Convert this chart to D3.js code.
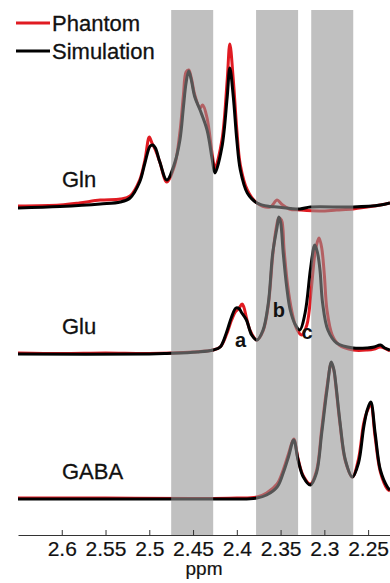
<!DOCTYPE html>
<html>
<head>
<meta charset="utf-8">
<script src="https://cdn.jsdelivr.net/npm/d3@7"></script>
<style>
  body { margin: 0; background: #fff; }
  svg { display: block; font-family: "Liberation Sans", Arial, sans-serif; }
</style>
</head>
<body>
<svg id="chart" width="390" height="583"></svg>
<script>
// spectra: [ppm, intensity above its own baseline]
const glnPhantom = [
  [2.650, 1], [2.602, 2], [2.580, 4], [2.556, 7], [2.533, 8], [2.522, 11],
  [2.511, 27], [2.505, 47], [2.500, 70], [2.497, 64], [2.493, 57], [2.488, 45],
  [2.480, 25], [2.471, 42], [2.465, 75], [2.461, 112], [2.458, 135], [2.455, 137],
  [2.452, 129], [2.448, 112], [2.442, 99], [2.439, 102], [2.434, 89], [2.428, 52],
  [2.425, 39], [2.417, 67], [2.411, 127], [2.408, 163], [2.404, 127], [2.400, 77],
  [2.396, 42], [2.388, 17], [2.377, 4], [2.362, 0], [2.354, 7], [2.349, 3],
  [2.340, -2], [2.328, -3], [2.305, -4], [2.286, -3], [2.267, -2], [2.251, 0],
  [2.236, 2], [2.225, 4]
];
const glnSim = [
  [2.650, -1], [2.602, 0.5], [2.556, 3], [2.533, 5], [2.522, 9], [2.511, 25],
  [2.505, 44], [2.499, 61], [2.496, 62], [2.493, 59], [2.488, 45], [2.480, 27],
  [2.471, 44], [2.465, 67], [2.461, 100], [2.458, 124], [2.455, 136], [2.452, 127],
  [2.448, 110], [2.442, 97], [2.434, 77], [2.428, 47], [2.425, 34], [2.417, 60],
  [2.411, 110], [2.408, 139], [2.404, 110], [2.400, 67], [2.396, 37], [2.388, 14],
  [2.377, 4], [2.362, 0.5], [2.354, 0], [2.328, -2], [2.316, 0], [2.267, 0],
  [2.236, 2], [2.225, 4]
];
const gluPhantom = [
  [2.650, 1], [2.600, 0.5], [2.550, 1], [2.500, 0.5], [2.450, 2], [2.427, 4],
  [2.419, 7], [2.412, 19], [2.406, 34], [2.401, 43], [2.398, 45], [2.394, 50],
  [2.392, 47], [2.389, 36], [2.385, 24], [2.380, 16], [2.377, 14], [2.370, 23],
  [2.364, 49], [2.359, 98], [2.355, 126], [2.352, 136], [2.349, 134], [2.346, 104],
  [2.342, 69], [2.337, 42], [2.332, 26], [2.326, 19], [2.320, 29], [2.315, 64],
  [2.311, 99], [2.308, 112], [2.306, 116], [2.303, 106], [2.300, 79], [2.297, 44],
  [2.291, 19], [2.283, 9], [2.267, 4], [2.251, 4], [2.243, 5], [2.236, 7], [2.225, 3]
];
const gluSim = [
  [2.650, 0], [2.500, 0], [2.480, 0.5], [2.445, 2], [2.427, 4], [2.419, 7],
  [2.412, 21], [2.406, 37], [2.401, 46], [2.397, 45], [2.395, 42], [2.389, 34],
  [2.383, 19], [2.377, 14], [2.370, 24], [2.364, 51], [2.359, 101], [2.354, 127],
  [2.352, 137], [2.350, 132], [2.347, 101], [2.343, 67], [2.339, 44], [2.333, 29],
  [2.328, 24], [2.322, 41], [2.316, 84], [2.312, 107], [2.311, 109], [2.308, 102],
  [2.305, 84], [2.302, 51], [2.296, 24], [2.286, 11], [2.267, 6], [2.251, 6],
  [2.243, 7], [2.236, 9], [2.231, 6], [2.225, 4]
];
const gabaPhantom = [
  [2.650, 1], [2.550, 1], [2.450, 0.5], [2.400, 1], [2.377, 2], [2.366, 6],
  [2.354, 15], [2.347, 29], [2.341, 45], [2.335, 60], [2.330, 40], [2.324, 23],
  [2.316, 15], [2.309, 28], [2.303, 70], [2.297, 112], [2.292, 136], [2.289, 128],
  [2.287, 114], [2.282, 74], [2.276, 38], [2.268, 22], [2.261, 40], [2.255, 76],
  [2.251, 88], [2.247, 94], [2.242, 62], [2.236, 27], [2.228, 10], [2.225, 8]
];
const gabaSim = [
  [2.650, 0], [2.550, 0], [2.450, 0], [2.400, 0], [2.377, 1], [2.366, 4],
  [2.354, 12], [2.347, 26], [2.341, 42], [2.335, 59], [2.330, 39], [2.324, 22],
  [2.316, 14], [2.309, 26], [2.303, 66], [2.297, 109], [2.292, 137], [2.289, 129],
  [2.287, 116], [2.282, 76], [2.276, 39], [2.268, 22], [2.261, 36], [2.255, 72],
  [2.251, 89], [2.247, 97], [2.242, 66], [2.236, 29], [2.228, 12], [2.225, 9]
];

const metabolites = ["Gln", "Glu", "GABA"];
const baselines = [328, 181, 36];
const bands = [[2.475, 2.427], [2.378, 2.330], [2.315, 2.267]];
const tickValues = [2.6, 2.55, 2.5, 2.45, 2.4, 2.35, 2.3, 2.25];
const peakLabels = ["a", "b", "c"];
const peakPos = [[2.402, 7], [2.359, 37], [2.326, 15]];
const legendNames = ["Phantom", "Simulation"];

const colors = { phantom: "#e01b22", sim: "#000" };

const svg = d3.select("#chart");
const width = +svg.attr("width");
const height = +svg.attr("height");
const axisY = 535;

const x = d3.scaleLinear().domain([2.65, 2.225]).range([18, 390]);
const y = d3.scaleLinear().domain([0, 525]).range([axisY, 10]);

const spectra = [
  { name: "Gln", phantom: glnPhantom, sim: glnSim },
  { name: "Glu", phantom: gluPhantom, sim: gluSim },
  { name: "GABA", phantom: gabaPhantom, sim: gabaSim }
];

const lineFor = (base) => d3.line()
  .x((d) => x(d[0]))
  .y((d) => y(base + d[1]))
  .curve(d3.curveCatmullRom.alpha(0.5));

// traces
const g = svg.append("g");
spectra.forEach((s, i) => {
  g.append("path").datum(s.phantom)
    .attr("d", lineFor(baselines[i]))
    .attr("fill", "none").attr("stroke", colors.phantom)
    .attr("stroke-width", 3).attr("stroke-linejoin", "round");
  g.append("path").datum(s.sim)
    .attr("d", lineFor(baselines[i]))
    .attr("fill", "none").attr("stroke", colors.sim)
    .attr("stroke-width", 3).attr("stroke-linejoin", "round");
});

// shaded bands (on top, translucent)
svg.append("g").selectAll("rect").data(bands).join("rect")
  .attr("x", (d) => x(d[0]))
  .attr("width", (d) => x(d[1]) - x(d[0]))
  .attr("y", y(525))
  .attr("height", axisY - y(525))
  .attr("fill", "#929292")
  .attr("fill-opacity", 0.58);

// metabolite names
svg.append("g").selectAll("text").data(metabolites).join("text")
  .attr("x", 62)
  .attr("y", (d, i) => y(baselines[i]) - 20)
  .attr("font-size", 22)
  .attr("fill", "#111")
  .attr("stroke", "#111").attr("stroke-width", 0.3)
  .text((d) => d);

// peak letters on Glu
svg.append("g").selectAll("text").data(peakLabels).join("text")
  .attr("x", (d, i) => x(peakPos[i][0]))
  .attr("y", (d, i) => y(baselines[1] + peakPos[i][1]))
  .attr("font-size", 20)
  .attr("font-weight", "bold")
  .attr("fill", "#111")
  .text((d) => d);

// x axis
const xAxis = d3.axisBottom(x)
  .tickValues(tickValues)
  .tickFormat((d) => String(d))
  .tickSizeInner(-5)
  .tickSizeOuter(0)
  .tickPadding(6);

const axisG = svg.append("g")
  .attr("transform", `translate(0,${axisY})`)
  .call(xAxis);
axisG.select(".domain").attr("stroke", "#333");
axisG.selectAll(".tick line").attr("stroke", "#333");
axisG.selectAll(".tick text")
  .attr("font-size", 21)
  .attr("font-family", "'Liberation Sans', Arial, sans-serif")
  .attr("fill", "#111")
  .attr("stroke", "#111").attr("stroke-width", 0.2);

svg.append("text")
  .attr("x", x(2.4375))
  .attr("y", 575)
  .attr("text-anchor", "middle")
  .attr("font-size", 19)
  .attr("fill", "#111")
  .attr("stroke", "#111").attr("stroke-width", 0.2)
  .text("ppm");

// legend
const legend = svg.append("g");
legendNames.forEach((name, i) => {
  const ly = 23 + i * 28;
  legend.append("line")
    .attr("x1", 16).attr("x2", 50)
    .attr("y1", ly).attr("y2", ly)
    .attr("stroke", i === 0 ? colors.phantom : colors.sim)
    .attr("stroke-width", 3);
  legend.append("text")
    .attr("x", 52).attr("y", ly + 8)
    .attr("font-size", 22)
    .attr("fill", "#111")
    .attr("stroke", "#111").attr("stroke-width", 0.3)
    .text(name);
});
</script>
</body>
</html>
